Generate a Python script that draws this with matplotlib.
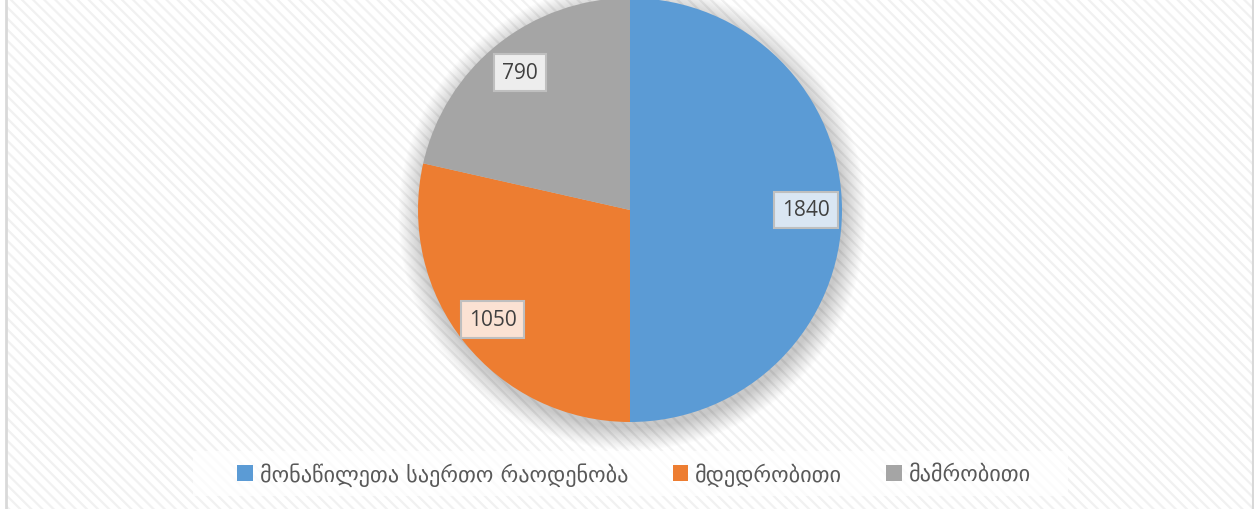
import matplotlib
matplotlib.use("Agg")
import matplotlib.pyplot as plt
from matplotlib.patches import Rectangle, Circle, Patch

categories = ["მონაწილეთა საერთო რაოდენობა", "მდედრობითი", "მამრობითი"]
values = [1840, 1050, 790]
colors = ["#5B9BD5", "#ED7D31", "#A5A5A5"]
box_colors = ["#DAE6F3", "#FBE2D3", "#EDEDED"]

W, H = 1254, 510
cx, cy, R = 630, 211, 212

plt.rcParams['hatch.color'] = '#F1F1F1'
plt.rcParams['hatch.linewidth'] = 1.6

fig = plt.figure(figsize=(W / 100, H / 100), dpi=100)
fig.patch.set_facecolor('white')

# background with diagonal stripes
bg = fig.add_axes([0, 0, 1, 1])
bg.set_xlim(0, W)
bg.set_ylim(H, 0)
bg.axis('off')
bg.add_patch(Rectangle((7, -5), W - 9, H + 10, facecolor='white', edgecolor='#F1F1F1',
                       hatch='\\\\\\', linewidth=0))
bg.plot([6, 6], [0, H], color='#D9D9D9', lw=2)
bg.plot([W - 1.5, W - 1.5], [0, H], color='#D9D9D9', lw=1.5)
# legend box
bg.add_patch(Rectangle((193, 452), 875, 45, facecolor='white', alpha=0.75, linewidth=0))

ax = fig.add_axes([0, 0, 1, 1])

# soft shadow
for i in range(18):
    ax.add_patch(Circle((0.01, -0.03), 1.0 + i * 0.006, facecolor='#000000',
                        alpha=0.011, linewidth=0, zorder=0))

total = sum(values)
wedges, texts, autotexts = ax.pie(values, colors=colors, startangle=90, counterclock=False,
                                  radius=1.0, center=(0, 0), frame=True,
                                  autopct=lambda p: f"{p * total / 100:.0f}", pctdistance=0.83,
                                  wedgeprops=dict(linewidth=0))
ax.set_xlim(-cx / R, (W - cx) / R)
ax.set_ylim(-(H - cy) / R, cy / R)
ax.axis('off')
for t, bc in zip(autotexts, box_colors):
    t.set_family(['Open Sans', 'DejaVu Sans'])
    t.set_fontsize(15)
    t.set_color('#404040')
    t.set_bbox(dict(boxstyle='square,pad=0.38', facecolor=bc, edgecolor='#BFBFBF', linewidth=1.5))

handles = [Patch(facecolor=c, edgecolor='none') for c in colors]
leg = fig.legend(handles, categories, loc='center', bbox_to_anchor=(634 / W, 1 - 475 / H),
                 ncol=3, frameon=False, handlelength=0.7, handleheight=0.7,
                 handletextpad=0.3, columnspacing=2.0,
                 prop={'family': ['DejaVu Sans'], 'size': 16})
for t in leg.get_texts():
    t.set_color('#595959')

fig.savefig('out.png', dpi=100)
